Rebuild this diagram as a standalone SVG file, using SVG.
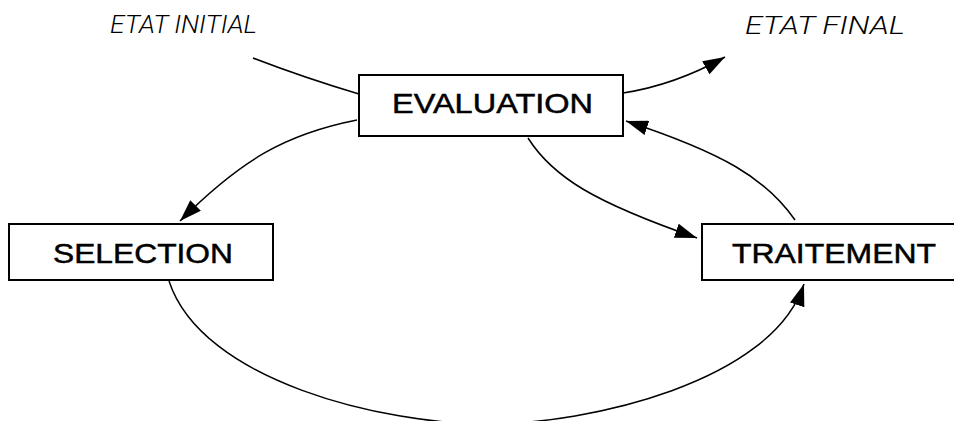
<svg xmlns="http://www.w3.org/2000/svg" width="954" height="421" viewBox="0 0 954 421">
<style>
.box{fill:#fff;stroke:#000;stroke-width:2}
.lbl{font-family:"Liberation Sans",Arial,sans-serif;font-size:28px;fill:#000;stroke:#000;stroke-width:0.5}
.state{font-family:Roboto,"Liberation Sans",Arial,sans-serif;font-size:26px;font-style:italic;font-weight:300;fill:#000}
.conn{fill:none;stroke:#000;stroke-width:1.5}
</style>
<defs>
<marker id="arr" viewBox="0 0 22 15" refX="22" refY="7.5" markerWidth="22" markerHeight="15" markerUnits="userSpaceOnUse" orient="auto">
<path d="M0,0 L22,7.5 L0,15 z" fill="#000"/>
</marker>
</defs>
<rect width="954" height="421" fill="#fff"/>
<g id="connectors">
<path class="conn" d="M253,58 Q305,78 359,94"/>
<path class="conn" d="M623,93 Q675,85 725,57" marker-end="url(#arr)"/>
<path class="conn" d="M357,120 C286,134 241.5,159.5 180,221" marker-end="url(#arr)"/>
<path class="conn" d="M528,138 C553,177.5 595,202.5 697,238" marker-end="url(#arr)"/>
<path class="conn" d="M795,220 C765.5,178 723,153 626,121" marker-end="url(#arr)"/>
<path class="conn" d="M169,281 C202,382 385,424 487,424 C589,424 772,382 804,284" marker-end="url(#arr)"/>
</g>
<g id="etat-initial">
<text class="state" x="110" y="33" textLength="147" lengthAdjust="spacingAndGlyphs">ETAT INITIAL</text>
</g>
<g id="etat-final">
<text class="state" x="745" y="34" textLength="160" lengthAdjust="spacingAndGlyphs">ETAT FINAL</text>
</g>
<g id="evaluation">
<rect class="box" x="359" y="75" width="264" height="61"/>
<text class="lbl" x="392" y="113" textLength="201" lengthAdjust="spacingAndGlyphs">EVALUATION</text>
</g>
<g id="selection">
<rect class="box" x="9" y="224" width="264" height="56"/>
<text class="lbl" x="53" y="263" textLength="180" lengthAdjust="spacingAndGlyphs">SELECTION</text>
</g>
<g id="traitement">
<rect class="box" x="702" y="224" width="258" height="56"/>
<text class="lbl" x="732" y="263" textLength="204" lengthAdjust="spacingAndGlyphs">TRAITEMENT</text>
</g>
</svg>
